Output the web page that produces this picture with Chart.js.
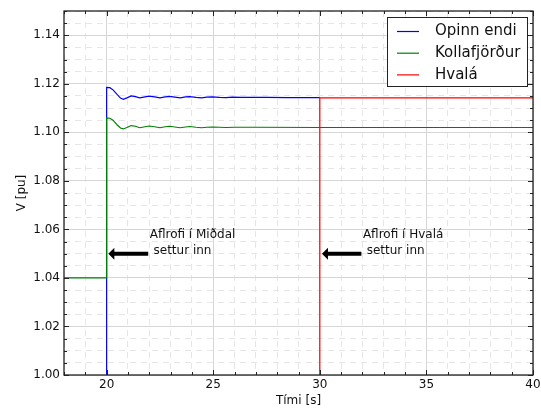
<!DOCTYPE html>
<html>
<head>
<meta charset="utf-8">
<script src="https://cdn.jsdelivr.net/npm/chart.js@4/dist/chart.umd.min.js"></script>
<style>
  body { margin: 0; background: #fff; }
  canvas { display: block; }
</style>
</head>
<body>
<canvas id="voltChart" width="541" height="408"></canvas>
<script>
// ---- data ----
const seriesNames = ['Opinn endi', 'Kollafjörður', 'Hvalá'];
const seriesColors = ['#0000ff', '#008000', '#ff0000'];

// Opinn endi (blue) — off until breaker at t=20
const blueT = [20, 20, 20.15, 20.3, 20.5, 20.65, 20.78, 20.95, 21.15, 21.35, 21.55, 21.8, 22.0, 22.25, 22.5, 22.75, 22.95,
  23.2, 23.45, 23.7, 23.9, 24.2, 24.45, 24.7, 24.95, 25.3, 25.6, 25.9, 26.3, 26.8, 27.5, 28.5, 30];
const blueV = [0, 1.1185, 1.1184, 1.1175, 1.1155, 1.1141, 1.1136, 1.1142, 1.1150, 1.1147, 1.1142, 1.1146, 1.1149, 1.1146, 1.1142, 1.1146, 1.1148,
  1.1145, 1.1142, 1.1146, 1.1147, 1.1144, 1.1142, 1.1145, 1.1146, 1.1144, 1.1143, 1.1145, 1.1144, 1.1144, 1.1144, 1.1143, 1.1143];

// Kollafjörður (green)
const greenT = [18, 20, 20, 20.15, 20.3, 20.5, 20.65, 20.78, 20.95, 21.15, 21.35, 21.55, 21.8, 22.0, 22.25, 22.5, 22.75, 22.95,
  23.2, 23.45, 23.7, 23.9, 24.2, 24.45, 24.7, 24.95, 25.3, 25.6, 26, 27, 30, 40];
const greenV = [1.04, 1.04, 1.1059, 1.1058, 1.1050, 1.1030, 1.1018, 1.1014, 1.1020, 1.1028, 1.1025, 1.1019, 1.1023, 1.1026, 1.1023, 1.1019, 1.1023, 1.1025,
  1.1022, 1.1019, 1.1022, 1.1024, 1.1021, 1.1019, 1.1021, 1.1022, 1.1021, 1.1020, 1.1021, 1.1021, 1.1020, 1.1020];

// Hvalá (red) — off until breaker at t=30
const redT = [30, 30, 40];
const redV = [0, 1.1142, 1.1142];

// axes
const xMin = 18, xMax = 40, xStep = 1, xLabelEvery = 5;
const yMin = 1.00, yMax = 1.15, yStep = 0.005, yLabelEvery = 0.02;
const xTitle = 'Tími [s]';
const yTitle = 'V [pu]';

// annotations: text lines, arrow tail/head (time) and height (pu)
const noteLines = [['Aflrofi í Miðdal', ' settur inn'], ['Aflrofi í Hvalá', ' settur inn']];
const noteTail = [21.95, 31.95];
const noteHead = [20.08, 30.1];
const noteY = [1.05, 1.05];

const FONT = "'DejaVu Sans', sans-serif";
const toPoints = (t, v) => t.map((x, i) => ({ x: x, y: v[i] }));

const isMajorX = v => Math.abs(v / xLabelEvery - Math.round(v / xLabelEvery)) < 1e-6;
const isMajorY = v => Math.abs(v / yLabelEvery - Math.round(v / yLabelEvery)) < 1e-6;

// frame + inward ticks on all four sides (matplotlib look)
const framePlugin = {
  id: 'frame',
  afterDatasetsDraw(chart) {
    const { ctx, chartArea: a, scales } = chart;
    ctx.save();
    ctx.strokeStyle = '#222';
    ctx.lineWidth = 1;
    ctx.beginPath();
    scales.x.ticks.forEach(t => {
      const px = Math.round(scales.x.getPixelForValue(t.value)) + 0.5;
      const len = isMajorX(t.value) ? 5 : 3;
      ctx.moveTo(px, a.bottom); ctx.lineTo(px, a.bottom - len);
      ctx.moveTo(px, a.top); ctx.lineTo(px, a.top + len);
    });
    scales.y.ticks.forEach(t => {
      const py = Math.round(scales.y.getPixelForValue(t.value)) + 0.5;
      const len = isMajorY(t.value) ? 5 : 3;
      ctx.moveTo(a.left, py); ctx.lineTo(a.left + len, py);
      ctx.moveTo(a.right, py); ctx.lineTo(a.right - len, py);
    });
    ctx.stroke();
    ctx.lineWidth = 1.3;
    ctx.strokeRect(a.left, a.top, a.right - a.left, a.bottom - a.top);
    ctx.restore();
  }
};

// arrows with text
const notePlugin = {
  id: 'notes',
  afterDatasetsDraw(chart) {
    const { ctx, scales } = chart;
    ctx.save();
    noteLines.forEach((lines, i) => {
      const xt = scales.x.getPixelForValue(noteTail[i]);
      const xh = scales.x.getPixelForValue(noteHead[i]);
      const y = scales.y.getPixelForValue(noteY[i]);
      const hl = 6, hw = 6, sw = 2;
      ctx.fillStyle = '#000';
      ctx.beginPath();
      ctx.moveTo(xt, y - sw);
      ctx.lineTo(xh + hl, y - sw);
      ctx.lineTo(xh + hl, y - hw);
      ctx.lineTo(xh, y);
      ctx.lineTo(xh + hl, y + hw);
      ctx.lineTo(xh + hl, y + sw);
      ctx.lineTo(xt, y + sw);
      ctx.closePath();
      ctx.fill();

      ctx.fillStyle = '#111';
      ctx.font = '12px ' + FONT;
      ctx.textAlign = 'left';
      ctx.textBaseline = 'alphabetic';
      const x0 = xt + 1.5;
      lines.forEach((s, j) => {
        ctx.fillText(s, x0, y - (lines.length - 1 - j) * 16);
      });
    });
    ctx.restore();
  }
};

// legend box in the upper right of the plot
const legendPlugin = {
  id: 'boxLegend',
  afterDraw(chart) {
    const { ctx, chartArea: a } = chart;
    const bx = a.right - 146, by = a.top + 6, bw = 140, bh = 69;
    ctx.save();
    ctx.fillStyle = '#fff';
    ctx.fillRect(bx, by, bw, bh);
    ctx.strokeStyle = '#222';
    ctx.lineWidth = 1;
    ctx.strokeRect(bx + 0.5, by + 0.5, bw, bh);
    ctx.font = '15px ' + FONT;
    ctx.textBaseline = 'middle';
    ctx.textAlign = 'left';
    chart.data.datasets.forEach((ds, i) => {
      const cy = by + 14.5 + i * 21.7;
      ctx.strokeStyle = ds.borderColor;
      ctx.lineWidth = 1.2;
      ctx.beginPath();
      ctx.moveTo(bx + 10, cy); ctx.lineTo(bx + 32, cy);
      ctx.stroke();
      ctx.fillStyle = '#111';
      ctx.fillText(ds.label, bx + 48, cy);
    });
    ctx.restore();
  }
};

const seriesT = [blueT, greenT, redT];
const seriesV = [blueV, greenV, redV];

new Chart(document.getElementById('voltChart'), {
  type: 'line',
  data: {
    datasets: seriesNames.map((name, i) => ({
      label: name,
      data: toPoints(seriesT[i], seriesV[i]),
      borderColor: seriesColors[i],
      borderWidth: 1.2,
      pointRadius: 0,
      tension: 0,
      fill: false,
      order: 3 - i  // later series drawn over earlier ones
    }))
  },
  options: {
    responsive: false,
    animation: false,
    parsing: true,
    layout: { padding: { left: 0, right: 8, top: 11, bottom: 0 } },
    plugins: {
      legend: { display: false },
      tooltip: { enabled: false }
    },
    scales: {
      x: {
        type: 'linear',
        min: xMin, max: xMax,
        afterFit: s => { s.height = 33; s.paddingLeft = 0; s.paddingRight = 0; },
        ticks: {
          stepSize: xStep,
          autoSkip: false,
          maxRotation: 0,
          padding: 3,
          color: '#111',
          font: { family: FONT, size: 12 },
          callback: v => isMajorX(v) ? String(v) : ''
        },
        grid: {
          drawTicks: false,
          lineWidth: 1,
          color: c => (c.tick && isMajorX(c.tick.value)) ? '#d6d6d6' : '#e6e6e6'
        },
        border: {
          display: false,
          dash: c => (c.tick && isMajorX(c.tick.value)) ? [] : [6, 5]
        },
        title: {
          display: true, text: xTitle, color: '#111',
          font: { family: FONT, size: 12 },
          padding: { top: 0, bottom: 0 }
        }
      },
      y: {
        type: 'linear',
        min: yMin, max: yMax,
        afterFit: s => { s.width = 64; s.paddingTop = 0; s.paddingBottom = 0; },
        ticks: {
          stepSize: yStep,
          autoSkip: false,
          padding: 4,
          color: '#111',
          font: { family: FONT, size: 12 },
          callback: v => isMajorY(v) ? v.toFixed(2) : ''
        },
        grid: {
          drawTicks: false,
          lineWidth: 1,
          color: c => (c.tick && isMajorY(c.tick.value)) ? '#d6d6d6' : '#e6e6e6'
        },
        border: {
          display: false,
          dash: c => (c.tick && isMajorY(c.tick.value)) ? [] : [6, 5]
        },
        title: {
          display: true, text: yTitle, color: '#111',
          font: { family: FONT, size: 12 },
          padding: { top: 15, bottom: 0 }
        }
      }
    }
  },
  plugins: [framePlugin, notePlugin, legendPlugin]
});
</script>
</body>
</html>
